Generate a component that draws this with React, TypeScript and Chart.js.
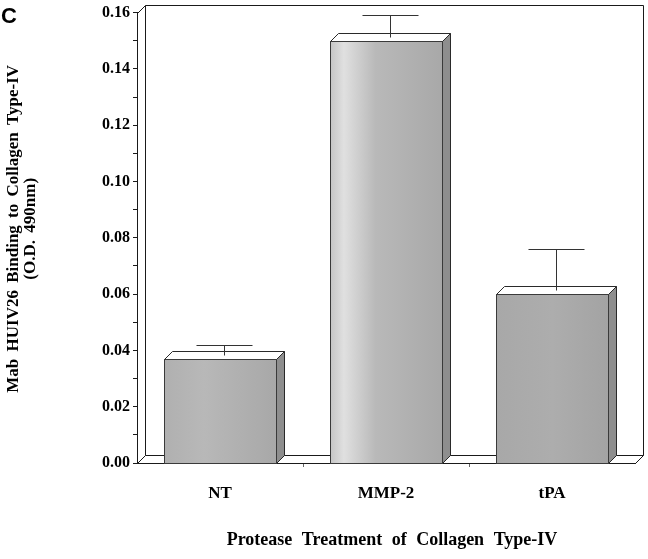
import React, { useEffect, useRef } from 'react';
import { Chart, registerables } from 'chart.js';

Chart.register(...registerables);

// ---- data ----
const categories = ['NT', 'MMP-2', 'tPA'];
const bindingOD = [0.037, 0.15, 0.06];
const errorOD = [0.005, 0.009, 0.016];
const yMin = 0;
const yMax = 0.16;
const yStep = 0.01;

// ---- text ----
const panelLabel = 'C';
const yTitleLines = ['Mab HUIV26 Binding to Collagen Type-IV', '(O.D. 490nm)'];
const xTitle = 'Protease Treatment of Collagen Type-IV';

// ---- style ----
const DX = 8;
const DY = 8;
const SERIF = '"Liberation Serif", "Times New Roman", serif';
const SANS = '"Liberation Sans", Arial, sans-serif';
const faceStops: Array<Array<[number, string]>> = [
  [[0, '#b0b0b0'], [0.35, '#b8b8b8'], [1, '#a8a8a8']],
  [[0, '#c6c6c6'], [0.12, '#e0e0e0'], [0.4, '#b9b9b9'], [1, '#a8a8a8']],
  [[0, '#a8a8a8'], [0.5, '#adadad'], [1, '#a3a3a3']],
];

const px = (v: number) => Math.round(v) + 0.5;

const bar3dPlugin = {
  id: 'bar3d',
  beforeDatasetsDraw(chart: any) {
    const { ctx, chartArea: a } = chart;
    ctx.save();
    ctx.strokeStyle = '#1a1a1a';
    ctx.lineWidth = 1;
    const L = px(a.left), R = px(a.right), T = px(a.top), B = px(a.bottom);
    ctx.beginPath();
    ctx.moveTo(L + DX, B - DY);
    ctx.lineTo(L + DX, T - DY);
    ctx.lineTo(R + DX, T - DY);
    ctx.lineTo(R + DX, B - DY);
    ctx.moveTo(L + DX, B - DY);
    ctx.lineTo(R + DX, B - DY);
    ctx.moveTo(L, B);
    ctx.lineTo(L + DX, B - DY);
    ctx.moveTo(R, B);
    ctx.lineTo(R + DX, B - DY);
    ctx.moveTo(L, T);
    ctx.lineTo(L + DX, T - DY);
    ctx.stroke();
    ctx.restore();
  },
  afterDatasetsDraw(chart: any) {
    const { ctx } = chart;
    const meta = chart.getDatasetMeta(0);
    const yScale = chart.scales.y;
    ctx.save();
    ctx.lineWidth = 1;
    meta.data.forEach((el: any, i: number) => {
      const { x, y, base, width } = el.getProps(['x', 'y', 'base', 'width'], true);
      const l = px(x - width / 2);
      const r = px(x + width / 2);
      const t = px(y);
      const b = px(base);
      // side face
      ctx.beginPath();
      ctx.moveTo(r, t);
      ctx.lineTo(r + DX, t - DY);
      ctx.lineTo(r + DX, b - DY);
      ctx.lineTo(r, b);
      ctx.closePath();
      ctx.fillStyle = '#8e8e8e';
      ctx.fill();
      ctx.strokeStyle = '#2a2a2a';
      ctx.stroke();
      // top face
      ctx.beginPath();
      ctx.moveTo(l, t);
      ctx.lineTo(l + DX, t - DY);
      ctx.lineTo(r + DX, t - DY);
      ctx.lineTo(r, t);
      ctx.closePath();
      ctx.fillStyle = '#ffffff';
      ctx.fill();
      ctx.stroke();
      // front face
      const g = ctx.createLinearGradient(l, 0, r, 0);
      faceStops[i % faceStops.length].forEach(([o, c]) => g.addColorStop(o, c));
      ctx.fillStyle = g;
      ctx.fillRect(l, t, r - l, b - t);
      ctx.strokeStyle = '#3a3a3a';
      ctx.strokeRect(l, t, r - l, b - t);
      // error bar
      const err = errorOD[i];
      const cx = px(x + DX / 2);
      const y0 = t - DY / 2;
      const yTop = px(yScale.getPixelForValue(bindingOD[i] + err));
      ctx.strokeStyle = '#333333';
      ctx.beginPath();
      ctx.moveTo(cx, y0);
      ctx.lineTo(cx, yTop);
      ctx.moveTo(cx - width / 4, yTop);
      ctx.lineTo(cx + width / 4, yTop);
      ctx.stroke();
    });
    ctx.restore();
  },
  afterDraw(chart: any) {
    const { ctx, chartArea: a } = chart;
    ctx.save();
    ctx.fillStyle = '#000';
    // panel label
    ctx.font = `bold 22px ${SANS}`;
    ctx.textAlign = 'left';
    ctx.textBaseline = 'alphabetic';
    ctx.fillText(panelLabel, 1, 23);
    // y title
    ctx.font = `bold 17px ${SERIF}`;
    ctx.textAlign = 'center';
    try { (ctx as any).wordSpacing = '3px'; } catch (e) { /* ignore */ }
    const cy = (a.top + a.bottom) / 2 - 9;
    yTitleLines.forEach((line, k) => {
      ctx.save();
      ctx.translate(18 + k * 17, cy);
      ctx.rotate(-Math.PI / 2);
      ctx.fillText(line, 0, 0);
      ctx.restore();
    });
    // x title
    ctx.font = `bold 18px ${SERIF}`;
    try { (ctx as any).wordSpacing = '5px'; } catch (e) { /* ignore */ }
    ctx.textAlign = 'center';
    ctx.fillText(xTitle, (a.left + a.right) / 2 + 6, 545);
    ctx.restore();
  },
};

export default function App() {
  const ref = useRef<HTMLCanvasElement | null>(null);
  useEffect(() => {
    if (!ref.current) return;
    const chart = new Chart(ref.current, {
      type: 'bar',
      data: {
        labels: categories,
        datasets: [
          {
            data: bindingOD,
            backgroundColor: 'rgba(0,0,0,0)',
            borderWidth: 0,
            barPercentage: 0.675,
            categoryPercentage: 1,
          },
        ],
      },
      options: {
        responsive: false,
        animation: false,
        devicePixelRatio: 1,
        layout: { padding: { left: 0, right: 13, top: 11, bottom: 0 } },
        plugins: {
          legend: { display: false },
          tooltip: { enabled: false },
          title: { display: false },
        },
        scales: {
          x: {
            offset: true,
            afterFit: (s: any) => {
              s.height = 96;
            },
            grid: {
              offset: true,
              drawOnChartArea: false,
              drawTicks: true,
              tickLength: 4,
              color: (c: any) => (c.type === 'tick' && c.index > 0 ? '#666' : 'rgba(0,0,0,0)'),
            },
            border: { display: true, color: '#1a1a1a', width: 1 },
            ticks: {
              color: '#000',
              font: { family: SERIF, size: 17, weight: 'bold' },
              padding: 16,
            },
          },
          y: {
            min: yMin,
            max: yMax,
            afterFit: (s: any) => {
              s.width = 137;
            },
            grid: {
              drawOnChartArea: false,
              drawTicks: true,
              tickLength: 4,
              color: '#1a1a1a',
            },
            border: { display: true, color: '#1a1a1a', width: 1 },
            ticks: {
              stepSize: yStep,
              color: '#000',
              padding: 3,
              font: { family: SERIF, size: 16, weight: 'bold' },
              callback: (v: any, i: number) => (i % 2 === 0 ? Number(v).toFixed(2) : ''),
            },
          },
        },
      },
      plugins: [bar3dPlugin],
    });
    return () => chart.destroy();
  }, []);
  return (
    <div style={{ position: 'absolute', left: 0, top: 0, width: 648, height: 559, background: '#fff' }}>
      <canvas ref={ref} width={648} height={559} style={{ display: 'block' }} />
    </div>
  );
}
